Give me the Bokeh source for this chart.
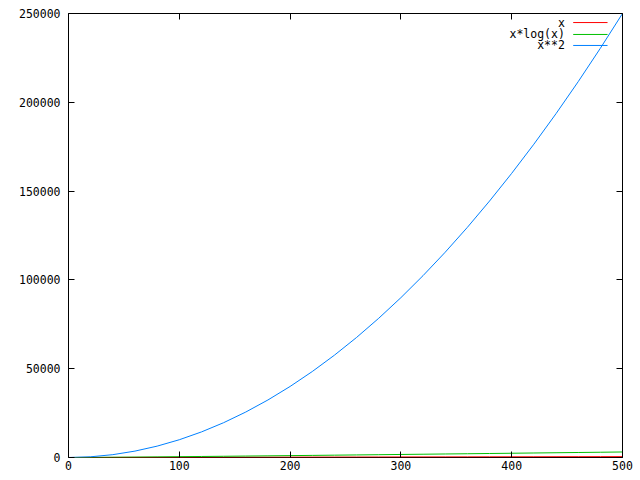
from bokeh.plotting import figure
from bokeh.models import Range1d, LinearAxis, FixedTicker, Label, NumeralTickFormatter, CustomJSTickFormatter
from bokeh.embed import file_html
from bokeh.resources import INLINE

# data
xs = [0, 20, 40, 60, 80, 100, 120, 140, 160, 180, 200, 220, 240, 260, 280,
      300, 320, 340, 360, 380, 400, 420, 440, 460, 480, 500]
y_x = [0, 20, 40, 60, 80, 100, 120, 140, 160, 180, 200, 220, 240, 260, 280,
       300, 320, 340, 360, 380, 400, 420, 440, 460, 480, 500]
y_xlogx = [0, 60, 148, 246, 351, 461, 574, 692, 812, 935, 1060, 1187, 1315, 1446,
           1578, 1711, 1846, 1982, 2119, 2257, 2397, 2537, 2678, 2820, 2963, 3107]
y_xsq = [0, 400, 1600, 3600, 6400, 10000, 14400, 19600, 25600, 32400, 40000,
         48400, 57600, 67600, 78400, 90000, 102400, 115600, 129600, 144400,
         160000, 176400, 193600, 211600, 230400, 250000]
x_ticks = [0, 100, 200, 300, 400, 500]
y_ticks = [0, 50000, 100000, 150000, 200000, 250000]
legend_labels = ["x", "x*log(x)", "x**2"]
colors = ["#ff0000", "#00c000", "#0080ff"]

FONT = "DejaVu Sans Mono"
FS = "11.5px"

p = figure(width=640, height=480, output_backend="svg", toolbar_location=None,
           x_range=Range1d(0, 500), y_range=Range1d(0, 250000),
           min_border_left=68, min_border_right=18, min_border_top=13,
           min_border_bottom=23, x_axis_location=None, y_axis_location=None)
p.background_fill_color = "white"
p.border_fill_color = "white"
p.outline_line_color = "black"
p.outline_line_width = 1
p.grid.visible = False

def make_axis(ticks, labels=True):
    ax = LinearAxis(ticker=FixedTicker(ticks=ticks))
    ax.axis_line_color = None
    ax.major_tick_in = 6
    ax.major_tick_out = 0
    ax.minor_tick_line_color = None
    ax.major_tick_line_color = "black"
    ax.major_label_text_font = FONT
    ax.major_label_text_font_size = FS
    ax.major_label_text_color = "black"
    if labels:
        ax.formatter = NumeralTickFormatter(format="0")
    else:
        ax.formatter = CustomJSTickFormatter(code="return '';")
        ax.major_label_standoff = 0
    return ax

bx = make_axis(x_ticks)
bx.major_label_standoff = 3
p.add_layout(bx, "below")
ly = make_axis(y_ticks)
ly.major_label_standoff = 8
p.add_layout(ly, "left")
p.add_layout(make_axis(x_ticks, False), "above")
p.add_layout(make_axis(y_ticks, False), "right")

series = [y_x, y_xlogx, y_xsq]
for ys, c in zip(series, colors):
    p.line(xs, ys, line_color=c, line_width=1)

# legend drawn inside the top-right corner
leg_y = [244900, 238200, 232000]
for lab, c, ly_ in zip(legend_labels, colors, leg_y):
    p.add_layout(Label(x=448, y=ly_, text=lab, text_align="right",
                       text_baseline="middle", text_font=FONT,
                       text_font_size=FS, text_color="black"))
    p.line([455.5, 486.5], [ly_, ly_], line_color=c, line_width=1)

open("out.html", "w").write(file_html(p, INLINE))
